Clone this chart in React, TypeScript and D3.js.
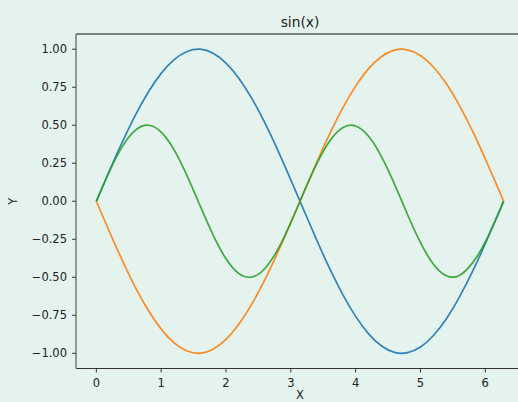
import React from "react";
import * as d3 from "d3";

const xValues = [0, 0.2, 0.4, 0.6, 0.8, 1.0, 1.2, 1.4, 1.6, 1.8, 2.0, 2.2, 2.4, 2.6, 2.8, 3.0, 3.2, 3.4, 3.6, 3.8, 4.0, 4.2, 4.4, 4.6, 4.8, 5.0, 5.2, 5.4, 5.6, 5.8, 6.0, 6.2, 6.283];
const blueValues = [0, 0.199, 0.389, 0.565, 0.717, 0.841, 0.932, 0.985, 1.0, 0.974, 0.909, 0.808, 0.675, 0.516, 0.335, 0.141, -0.058, -0.256, -0.443, -0.612, -0.757, -0.872, -0.952, -0.994, -0.996, -0.959, -0.883, -0.773, -0.631, -0.465, -0.279, -0.083, 0];
const orangeValues = [0, -0.199, -0.389, -0.565, -0.717, -0.841, -0.932, -0.985, -1.0, -0.974, -0.909, -0.808, -0.675, -0.516, -0.335, -0.141, 0.058, 0.256, 0.443, 0.612, 0.757, 0.872, 0.952, 0.994, 0.996, 0.959, 0.883, 0.773, 0.631, 0.465, 0.279, 0.083, 0];
const greenValues = [0, 0.195, 0.359, 0.466, 0.5, 0.455, 0.338, 0.167, -0.029, -0.221, -0.378, -0.476, -0.498, -0.442, -0.316, -0.14, 0.058, 0.247, 0.397, 0.484, 0.495, 0.427, 0.292, 0.112, -0.087, -0.272, -0.414, -0.49, -0.488, -0.407, -0.268, -0.083, 0];
const xTicks = [0, 1, 2, 3, 4, 5, 6];
const yTicks = [-1.0, -0.75, -0.5, -0.25, 0, 0.25, 0.5, 0.75, 1.0];
const seriesColors = ["#1f77b4", "#ff7f0e", "#2ca02c"];
const titleText = "sin(x)";
const xLabel = "X";
const yLabel = "Y";

const W = 518;
const H = 402;
const BG = "#e4f3ee";
const FONT = "DejaVu Sans, sans-serif";

export default function App() {
  const left = 76, right = 524, top = 34, bottom = 368.5;
  const x = d3.scaleLinear().domain([-0.3142, 6.5973]).range([left, right]);
  const y = d3.scaleLinear().domain([-1.1, 1.1]).range([bottom, top]);
  const line = d3
    .line<number>()
    .x((_, i) => x(xValues[i]))
    .y((d) => y(d))
    .curve(d3.curveNatural);
  const series = [blueValues, orangeValues, greenValues];
  const fmt = (v: number) => d3.format(".2f")(v).replace("-", "\u2212");

  return (
    <div style={{ position: "absolute", left: 0, top: 0 }}>
      <svg width={W} height={H} style={{ display: "block", background: BG }}>
        <rect x={0} y={0} width={W} height={H} fill={BG} />
        <text x={(left + right) / 2} y={27} textAnchor="middle" fontFamily={FONT} fontSize={13.8} fill="#222">
          {titleText}
        </text>
        {series.map((s, i) => (
          <path key={i} d={line(s) || ""} fill="none" stroke={seriesColors[i]} strokeOpacity={0.9} strokeWidth={1.7} strokeLinejoin="round" strokeLinecap="butt" />
        ))}
        {/* spines */}
        <line x1={left} x2={right} y1={top} y2={top} stroke="#111" strokeWidth={1} />
        <line x1={left} x2={right} y1={bottom} y2={bottom} stroke="#333" strokeWidth={1} />
        <line x1={left} x2={left} y1={top} y2={bottom} stroke="#777" strokeWidth={1.5} />
        {xTicks.map((t) => (
          <g key={t}>
            <line x1={x(t)} x2={x(t)} y1={bottom} y2={bottom + 4} stroke="#333" strokeWidth={1} />
            <text x={x(t)} y={387} textAnchor="middle" fontFamily={FONT} fontSize={11.5} fill="#222">
              {String(t)}
            </text>
          </g>
        ))}
        {yTicks.map((t) => (
          <g key={t}>
            <line x1={left - 4} x2={left} y1={y(t)} y2={y(t)} stroke="#333" strokeWidth={1} />
            <text x={left - 9} y={y(t)} dy="0.35em" textAnchor="end" fontFamily={FONT} fontSize={11.5} fill="#222">
              {fmt(t)}
            </text>
          </g>
        ))}
        <text x={(left + right) / 2} y={398.5} textAnchor="middle" fontFamily={FONT} fontSize={11.5} fill="#222">
          {xLabel}
        </text>
        <text transform={`translate(17, ${(top + bottom) / 2}) rotate(-90)`} textAnchor="middle" fontFamily={FONT} fontSize={11.5} fill="#222">
          {yLabel}
        </text>
      </svg>
    </div>
  );
}
